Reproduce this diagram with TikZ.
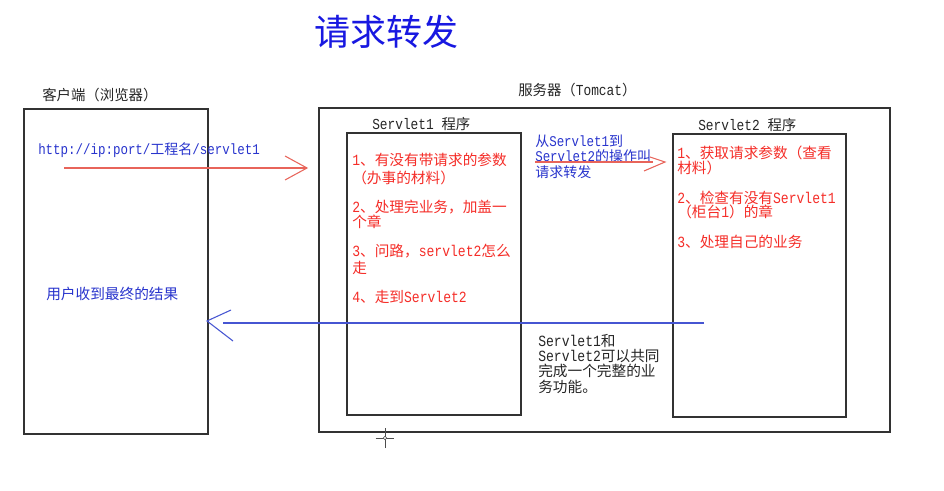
\documentclass[tikz,border=0pt]{standalone}
\usepackage{fontspec}
\setmainfont{Noto Sans CJK SC}
\newfontfamily\mono[FakeStretch=0.84,Scale=1.06]{Liberation Mono}
\newcommand\mn[1]{{\mono #1}}
\usetikzlibrary{fit}
\definecolor{ttlblue}{RGB}{24,24,225}
\definecolor{txtblue}{RGB}{40,52,205}
\definecolor{txtred}{RGB}{245,45,40}
\definecolor{arrred}{RGB}{232,100,90}
\definecolor{arrblue}{RGB}{70,85,210}
\definecolor{boxgray}{RGB}{50,50,50}
\tikzset{
  box/.style={draw=boxgray, line width=0.8pt, inner sep=0pt},
  lbl/.style={anchor=west, inner sep=0pt, font=\fontsize{10.8pt}{12pt}\selectfont, text=black!85},
  redtxt/.style={anchor=west, inner sep=0pt, font=\fontsize{11pt}{13pt}\selectfont, text=txtred},
  bluetxt/.style={anchor=west, inner sep=0pt, font=\fontsize{10.5pt}{12pt}\selectfont, text=txtblue},
  blktxt/.style={anchor=west, inner sep=0pt, font=\fontsize{11pt}{13pt}\selectfont, text=black!85},
  redarrow/.style={draw=arrred, line width=0.8pt},
  bluearrow/.style={draw=arrblue, line width=0.8pt},
}
\begin{document}
\begin{tikzpicture}[x=0.75pt,y=-0.75pt]
\useasboundingbox (0,0) rectangle (944,491);
\fill[white] (0,0) rectangle (944,491);

% title
\node[inner sep=0pt, font=\fontsize{27pt}{29pt}\selectfont, text=ttlblue] (title) at (386,32) {请求转发};

% boxes
\coordinate (c1a) at (24,109); \coordinate (c1b) at (208,434);
\node[box, fit=(c1a)(c1b)] (client) {};
\coordinate (sva) at (319,108); \coordinate (svb) at (890,432);
\node[box, fit=(sva)(svb)] (server) {};
\coordinate (s1a) at (347,133); \coordinate (s1b) at (521,415);
\node[box, fit=(s1a)(s1b)] (servlet1) {};
\coordinate (s2a) at (673,134); \coordinate (s2b) at (846,417);
\node[box, fit=(s2a)(s2b)] (servlet2) {};

% labels
\node[lbl] (clientlbl) at (42,95) {客户端（浏览器）};
\node[lbl] (serverlbl) at (518,90) {服务器（\mn{Tomcat}）};
\node[lbl] (s1lbl) at (372,124) {\mn{Servlet1 }程序};
\node[lbl] (s2lbl) at (698,125) {\mn{Servlet2 }程序};

% client texts
\node[bluetxt] (url) at (38,150) {\mn{http://ip:port/}工程名\mn{/servlet1}};
\node[bluetxt, font=\fontsize{11pt}{13pt}\selectfont] (result) at (46,294) {用户收到最终的结果};

% servlet1 texts
\node[redtxt] (a1) at (352,160) {\mn{1}、有没有带请求的参数};
\node[redtxt] (a1b) at (352,178) {（办事的材料）};
\node[redtxt] (a2) at (352,207) {\mn{2}、处理完业务，加盖一};
\node[redtxt] (a2b) at (352,222) {个章};
\node[redtxt] (a3) at (352,251) {\mn{3}、问路，\mn{servlet2}怎么};
\node[redtxt] (a3b) at (352,268) {走};
\node[redtxt] (a4) at (352,297) {\mn{4}、走到\mn{Servlet2}};

% middle texts
\node[bluetxt] (m1) at (535,141) {从\mn{Servlet1}到};
\node[bluetxt] (m2) at (535,156) {\mn{Servlet2}的操作叫};
\node[bluetxt] (m3) at (535,172) {请求转发};

\node[blktxt] (k1) at (538,341) {\mn{Servlet1}和};
\node[blktxt] (k2) at (538,356) {\mn{Servlet2}可以共同};
\node[blktxt] (k3) at (538,371) {完成一个完整的业};
\node[blktxt] (k4) at (538,387) {务功能。};

% servlet2 texts
\node[redtxt] (b1) at (677,153) {\mn{1}、获取请求参数（查看};
\node[redtxt] (b1b) at (677,168) {材料）};
\node[redtxt] (b2) at (677,198) {\mn{2}、检查有没有\mn{Servlet1}};
\node[redtxt] (b2b) at (677,212) {（柜台\mn{1}）的章};
\node[redtxt] (b3) at (677,242) {\mn{3}、处理自己的业务};

% red arrow 1 (request)
\coordinate (r1s) at (64,168); \coordinate (r1t) at (307,168);
\coordinate (r1u) at (285,156); \coordinate (r1l) at (285,180);
\draw[redarrow] (r1s) -- (r1t);
\draw[redarrow] (r1u) -- (r1t) -- (r1l);

% red arrow 2 (forward)
\coordinate (r2s) at (535,162); \coordinate (r2e) at (653,162);
\coordinate (r2t) at (665,162); \coordinate (r2u) at (650,157); \coordinate (r2l) at (644,171);
\draw[redarrow] (r2s) -- (r2e);
\draw[redarrow] (r2u) -- (r2t) -- (r2l);

% blue arrow (response)
\coordinate (bs) at (704,323); \coordinate (be) at (223,323);
\coordinate (bt) at (207,321); \coordinate (bu) at (231,310); \coordinate (bl) at (233,341);
\draw[bluearrow] (bs) -- (be);
\draw[bluearrow] (bu) -- (bt) -- (bl);

% cursor
\coordinate (cur) at (385,438);
\draw[black!70, line width=0.7pt] ([xshift=-7pt]cur) -- ([xshift=7pt]cur)
  ([yshift=-7.5pt]cur) -- ([yshift=7.5pt]cur);
\draw[black!70, line width=0.5pt, fill=white] (cur) circle (1.3pt);
\end{tikzpicture}
\end{document}
